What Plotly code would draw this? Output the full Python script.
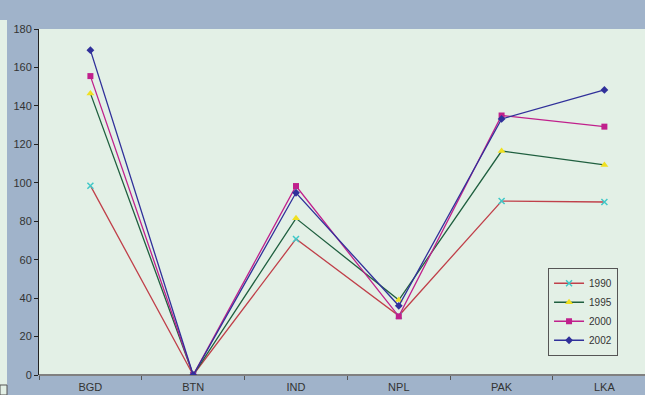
import plotly.graph_objects as go

countries = ["BGD", "BTN", "IND", "NPL", "PAK", "LKA"]
years = ["1990", "1995", "2000", "2002"]

v1990 = [98.5, 0, 70.8, 30.8, 90.5, 90.0]
v1995 = [146.5, 0, 81.5, 39.0, 116.5, 109.3]
v2000 = [155.5, 0, 98.3, 30.5, 135.0, 129.2]
v2002 = [169.0, 0, 94.8, 36.0, 133.2, 148.3]

series = [v1990, v1995, v2000, v2002]
line_colors = ["#c0404a", "#1f5f3f", "#c0208c", "#30309a"]
marker_colors = ["#40c8c8", "#f0e020", "#c0208c", "#30309a"]
symbols = ["x-thin", "triangle-up", "square", "diamond"]
marker_sizes = [6, 7, 6, 6]

fig = go.Figure()
for name, vals, lc, mc, sym, ms in zip(years, series, line_colors, marker_colors, symbols, marker_sizes):
    fig.add_trace(go.Scatter(
        x=countries, y=vals, name=name, mode="lines+markers",
        line=dict(color=lc, width=1.3),
        marker=dict(symbol=sym, color=mc, size=ms,
                    line=dict(color=mc, width=1.5 if sym == "x-thin" else 0)),
    ))

bg = "#a0b3ca"
plot_bg = "#e3f0e6"

fig.update_layout(
    width=645, height=395,
    margin=dict(l=39, r=0, t=29, b=20),
    paper_bgcolor=bg,
    plot_bgcolor=plot_bg,
    font=dict(family="Liberation Sans, Arial, sans-serif", size=11, color="#333333"),
    showlegend=True,
    legend=dict(
        x=0.84, y=0.31, xanchor="left", yanchor="top",
        bgcolor=plot_bg, bordercolor="#555555", borderwidth=1,
        font=dict(size=10, color="#333333"),
        tracegroupgap=0, itemwidth=30,
    ),
    shapes=[
        dict(type="rect", xref="paper", yref="paper",
             x0=-39 / 606, x1=-32 / 606, y0=-20 / 346, y1=355 / 346,
             fillcolor=plot_bg, line=dict(width=0), layer="below"),
        dict(type="rect", xref="paper", yref="paper",
             x0=-39 / 606, x1=-32 / 606, y0=-20 / 346, y1=-10 / 346,
             fillcolor="rgba(0,0,0,0)", line=dict(color="#555555", width=1)),
    ],
)

fig.update_xaxes(
    range=[-0.5, 5.395],
    showgrid=False, zeroline=False,
    showline=False,
    ticks="outside", tickson="boundaries", ticklen=4, tickcolor="#555555",
    ticklabelstandoff=4,
    tickfont=dict(size=11, color="#333333"),
)
fig.update_yaxes(
    range=[0, 180], dtick=20,
    showgrid=False, zeroline=True, zerolinecolor="#808080", zerolinewidth=2,
    showline=True, linecolor="#222222", linewidth=1,
    ticks="outside", ticklen=4, tickcolor="#222222",
    tickfont=dict(size=11, color="#333333"),
)

# page body has a default margin; drop it so the figure sits at the window corner
fig.write_html("out.html", config={"displayModeBar": False},
               post_script="document.body.style.margin='0';")
